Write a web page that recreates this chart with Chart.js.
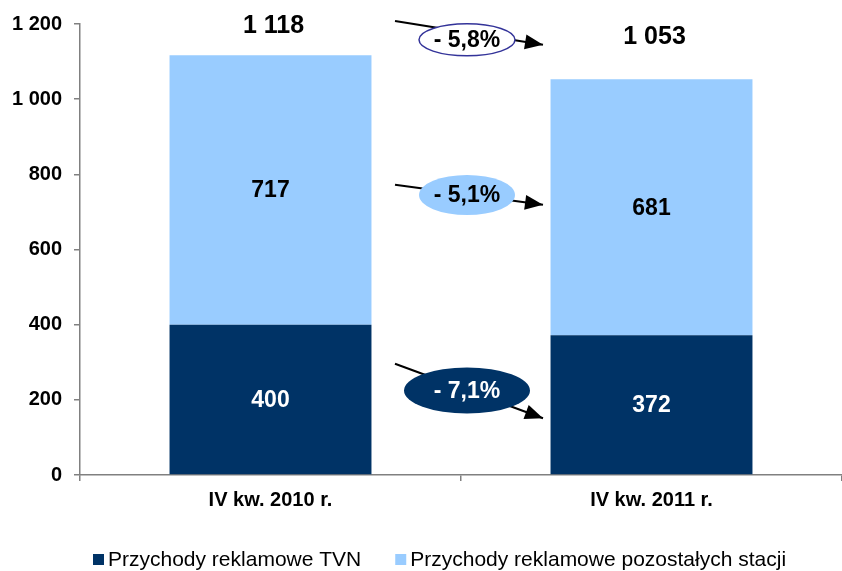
<!DOCTYPE html>
<html>
<head>
<meta charset="utf-8">
<script src="https://cdn.jsdelivr.net/npm/chart.js@4"></script>
<style>
  html, body { margin: 0; padding: 0; background: #fff; }
  #wrap { width: 842px; height: 571px; }
</style>
</head>
<body>
<div id="wrap"><canvas id="myChart" width="842" height="571"></canvas></div>
<script>
// data
const categories = ['IV kw. 2010 r.', 'IV kw. 2011 r.'];
const seriesNames = ['Przychody reklamowe TVN', 'Przychody reklamowe pozostałych stacji'];
const tvnRevenue = [400, 372];
const otherRevenue = [717, 681];
const totals = [1118, 1053];
// changes: TVN, other stations, total
const changeLabels = ['- 7,1%', '- 5,1%', '- 5,8%'];
const yMax = 1200;
const yStep = 200;

const navy = '#003366';
const lightBlue = '#99ccff';
const fontFam = '"Liberation Sans", Arial, sans-serif';

const fmt = v => String(v).replace(/\B(?=(\d{3})+(?!\d))/g, ' ');

// labels in the bars, totals, change bubbles and legend
const extras = {
    id: 'extras',
    afterDatasetsDraw(chart) {
        const ctx = chart.ctx;
        const x = chart.scales.x;
        const y = chart.scales.y;
        ctx.save();
        ctx.textAlign = 'center';
        ctx.textBaseline = 'middle';

        // segment values
        chart.data.datasets.forEach((ds, di) => {
            chart.getDatasetMeta(di).data.forEach((bar, i) => {
                ctx.font = 'bold 23px ' + fontFam;
                ctx.fillStyle = di === 0 ? '#ffffff' : '#000000';
                ctx.fillText(fmt(ds.data[i]), bar.x, (bar.y + bar.base) / 2 + 1);
            });
        });

        // totals above bars
        const totalOffsets = [29, 42];
        const topMeta = chart.getDatasetMeta(1);
        totals.forEach((t, i) => {
            const bar = topMeta.data[i];
            ctx.font = 'bold 25px ' + fontFam;
            ctx.fillStyle = '#000';
            ctx.fillText(fmt(t), bar.x + 3, bar.y - totalOffsets[i]);
        });

        // change bubbles with arrows
        const mid = (x.getPixelForValue(0) + x.getPixelForValue(1)) / 2;
        const bubbles = [
            { from: 296, to: 151, c: 225, rx: 63, ry: 23, fill: navy, stroke: null, text: '#fff' },
            { from: 772, to: 719, c: 745, rx: 48, ry: 20, fill: lightBlue, stroke: null, text: '#000' },
            { from: 1208, to: 1145, c: 1158, rx: 48, ry: 16, fill: '#fff', stroke: '#333399', text: '#000' }
        ];
        bubbles.forEach((b, i) => {
            const x1 = mid - 66, y1 = y.getPixelForValue(b.from);
            const x2 = mid + 82, y2 = y.getPixelForValue(b.to);
            ctx.strokeStyle = '#000';
            ctx.lineWidth = 2;
            ctx.beginPath();
            ctx.moveTo(x1, y1);
            ctx.lineTo(x2, y2);
            ctx.stroke();
            // arrow head
            const ang = Math.atan2(y2 - y1, x2 - x1);
            const hl = 18, hw = 7.5;
            ctx.fillStyle = '#000';
            ctx.beginPath();
            ctx.moveTo(x2, y2);
            ctx.lineTo(x2 - hl * Math.cos(ang) + hw * Math.sin(ang), y2 - hl * Math.sin(ang) - hw * Math.cos(ang));
            ctx.lineTo(x2 - hl * Math.cos(ang) - hw * Math.sin(ang), y2 - hl * Math.sin(ang) + hw * Math.cos(ang));
            ctx.closePath();
            ctx.fill();

            const cx = mid + 6, cy = y.getPixelForValue(b.c);
            ctx.beginPath();
            ctx.ellipse(cx, cy, b.rx, b.ry, 0, 0, Math.PI * 2);
            ctx.fillStyle = b.fill;
            ctx.fill();
            if (b.stroke) {
                ctx.strokeStyle = b.stroke;
                ctx.lineWidth = 1.5;
                ctx.stroke();
            }
            ctx.font = 'bold 23px ' + fontFam;
            ctx.fillStyle = b.text;
            ctx.fillText(changeLabels[i], cx, cy + 1);
        });

        // legend
        const colors = [navy, lightBlue];
        ctx.font = '21px ' + fontFam;
        ctx.textAlign = 'left';
        let lx = 93;
        const ly = 559;
        seriesNames.forEach((name, i) => {
            ctx.fillStyle = colors[i];
            ctx.fillRect(lx, ly - 5, 11, 11);
            ctx.fillStyle = '#000';
            ctx.fillText(name, lx + 15, ly + 1);
            lx += 15 + ctx.measureText(name).width + 34;
        });
        ctx.restore();
    }
};

const config = {
    type: 'bar',
    data: {
        labels: categories,
        datasets: [
            { label: seriesNames[0], data: tvnRevenue, backgroundColor: navy, barPercentage: 0.53, categoryPercentage: 1 },
            { label: seriesNames[1], data: otherRevenue, backgroundColor: lightBlue, barPercentage: 0.53, categoryPercentage: 1 }
        ]
    },
    options: {
        responsive: false,
        animation: false,
        layout: { padding: { top: 21, left: 0, right: 0, bottom: 0 } },
        plugins: {
            legend: { display: false },
            tooltip: { enabled: false }
        },
        scales: {
            x: {
                stacked: true,
                grid: { drawOnChartArea: false, offset: true, tickLength: 6, color: '#808080', lineWidth: 1.5 },
                border: { color: '#808080', width: 1.5 },
                ticks: { color: '#000', padding: 7, font: { family: fontFam, size: 20, weight: 'bold' } },
                afterFit(scale) { scale.height = 96; }
            },
            y: {
                stacked: true,
                min: 0,
                max: yMax,
                grid: { drawOnChartArea: false, tickLength: 6, color: '#808080', lineWidth: 1.5 },
                border: { color: '#808080', width: 1.5 },
                ticks: {
                    stepSize: yStep,
                    color: '#000',
                    padding: 12,
                    font: { family: fontFam, size: 20, weight: 'bold' },
                    callback: v => fmt(v)
                },
                afterFit(scale) { scale.width = 80; }
            }
        }
    },
    plugins: [extras]
};

const myChart = new Chart(document.getElementById('myChart'), config);
</script>
</body>
</html>
